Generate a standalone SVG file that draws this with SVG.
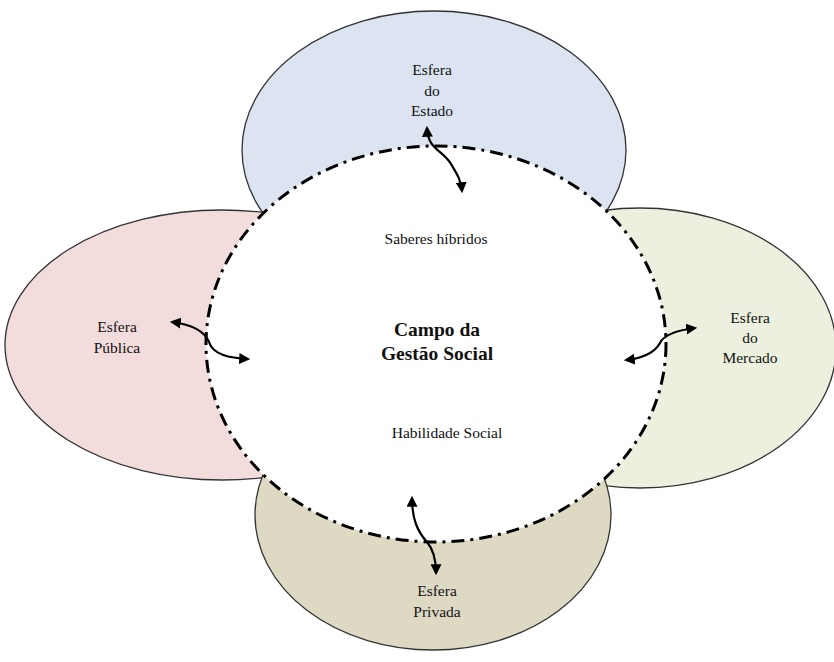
<svg xmlns="http://www.w3.org/2000/svg" width="834" height="662" viewBox="0 0 834 662">
<defs>
<style>
.lobe{stroke:#333;stroke-width:1.3}
.t{font-family:"Liberation Serif","Times New Roman",serif;font-size:15.5px;fill:#111;text-anchor:middle}
.b{font-weight:bold;font-size:19.5px}
.arr{fill:none;stroke:#000;stroke-width:2.2;marker-start:url(#ah);marker-end:url(#ah)}
</style>
<marker id="ah" viewBox="0 0 10 10" refX="8" refY="5" markerWidth="5" markerHeight="5" orient="auto-start-reverse" markerUnits="strokeWidth">
<path d="M0,0 L10,5 L0,10 z" fill="#000"/>
</marker>
</defs>
<rect width="834" height="662" fill="#fff"/>
<g id="esfera-estado">
<ellipse class="lobe" cx="434" cy="150" rx="192" ry="139" fill="#dbe4f0"/>
</g>
<g id="esfera-publica">
<ellipse class="lobe" cx="222" cy="345" rx="217" ry="135" fill="#f2dcdc"/>
</g>
<g id="esfera-mercado">
<ellipse class="lobe" cx="640" cy="348" rx="196" ry="140" fill="#ebf1de"/>
</g>
<g id="esfera-privada">
<ellipse class="lobe" cx="433" cy="515" rx="178" ry="135" fill="#ddd9c3"/>
</g>
<g id="campo">
<ellipse cx="436" cy="344" rx="230" ry="198" fill="#fff"/>
<ellipse cx="436" cy="344" rx="230" ry="198" fill="none" stroke="#000" stroke-width="3" stroke-dasharray="13,6,3,6"/>
</g>
<g id="labels">
<text class="t" x="432" y="75">Esfera</text>
<text class="t" x="432" y="96">do</text>
<text class="t" x="432" y="116">Estado</text>
<text class="t" x="117" y="332">Esfera</text>
<text class="t" x="117" y="353">Pública</text>
<text class="t" x="750" y="323">Esfera</text>
<text class="t" x="750" y="343">do</text>
<text class="t" x="750" y="363">Mercado</text>
<text class="t" x="437" y="596">Esfera</text>
<text class="t" x="437" y="617">Privada</text>
<text class="t" x="436" y="244">Saberes híbridos</text>
<text class="t b" x="437" y="336">Campo da</text>
<text class="t b" x="437" y="360">Gestão Social</text>
<text class="t" x="447" y="438">Habilidade Social</text>
</g>
<g id="connectors">
<path class="arr" d="M427,128 C428,150 443,150 451,164 C457,174 461,180 462,191"/>
<path class="arr" d="M172,322 C195,325 205,332 209,342 C213,355 230,358 248,359"/>
<path class="arr" d="M626,360 C645,358 655,352 660,343 C664,334 680,330 695,328"/>
<path class="arr" d="M412,498 C412,520 418,532 427,542 C434,550 436,560 436,573"/>
</g>
</svg>
